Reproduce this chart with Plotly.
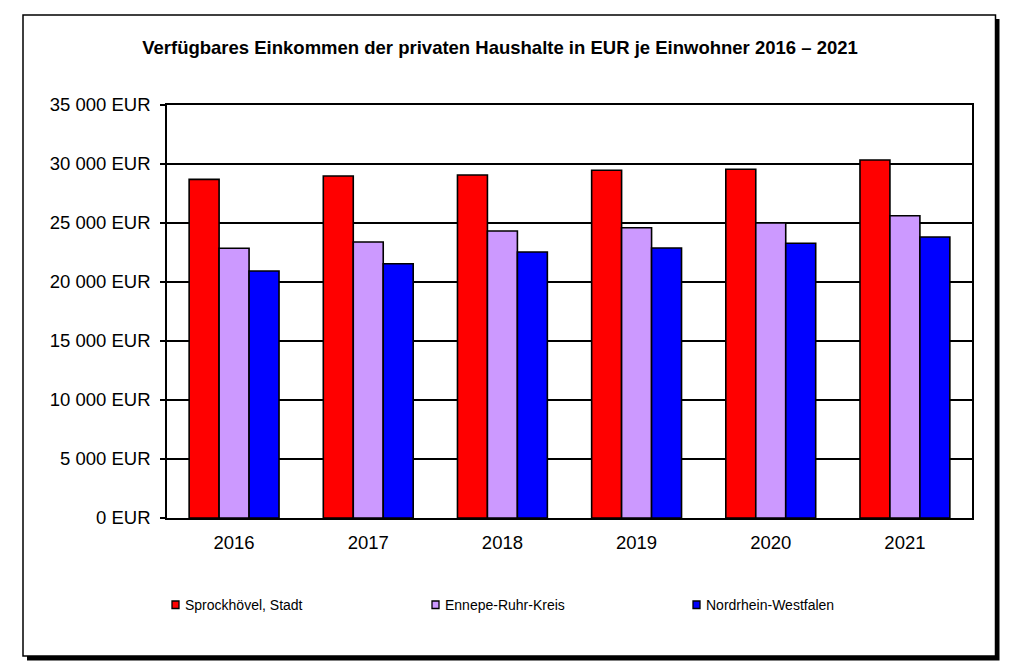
import plotly.graph_objects as go

years = ["2016", "2017", "2018", "2019", "2020", "2021"]
sprockhoevel = [28700, 28980, 29070, 29470, 29550, 30340]
ennepe = [22860, 23390, 24320, 24600, 25000, 25620]
nrw = [20930, 21550, 22540, 22880, 23280, 23810]
series_names = ["Sprockhövel, Stadt", "Ennepe-Ruhr-Kreis", "Nordrhein-Westfalen"]
colors = ["#FF0000", "#CC99FF", "#0000FF"]
ytick_vals = [0, 5000, 10000, 15000, 20000, 25000, 30000, 35000]
ytick_text = ["0 EUR", "5 000 EUR", "10 000 EUR", "15 000 EUR", "20 000 EUR",
              "25 000 EUR", "30 000 EUR", "35 000 EUR"]
title = "Verfügbares Einkommen der privaten Haushalte in EUR je Einwohner 2016 – 2021"

# the page body adds an 8px offset; work in screen coordinates and shift
OFF = 8
SW, SH = 1017, 670
W, H = SW - OFF, SH - OFF
SL, SR, ST, SB = 167, 972, 105, 518  # plot area in screen px
L, R, T, B = SL - OFF, SR - OFF, ST - OFF, SB - OFF


def px(sx):
    return (sx - SL) / (SR - SL)


def py(sy):
    return (SB - sy) / (SB - ST)


fig = go.Figure()
for name, vals, c in zip(series_names, [sprockhoevel, ennepe, nrw], colors):
    fig.add_trace(go.Bar(x=years, y=vals, name=name, showlegend=False,
                         marker=dict(color=c, line=dict(color="black", width=1.6))))

shapes = [
    # shadow
    dict(type="rect", xref="paper", yref="paper", x0=px(27), x1=px(999.5), y0=py(19), y1=py(660.5),
         fillcolor="black", line=dict(width=0), layer="below"),
    # frame
    dict(type="rect", xref="paper", yref="paper", x0=px(23), x1=px(995.5), y0=py(15), y1=py(656),
         fillcolor="white", line=dict(color="black", width=1.5), layer="below"),
]

# manual legend
legend_marker_x = [172, 432, 693]
annotations = []
for name, c, mx in zip(series_names, colors, legend_marker_x):
    shapes.append(dict(type="rect", xref="paper", yref="paper",
                       x0=px(mx), x1=px(mx + 7), y0=py(601), y1=py(608.5),
                       fillcolor=c, line=dict(color="black", width=1.3)))
    annotations.append(dict(xref="paper", yref="paper", x=px(mx + 10.5), y=py(605),
                            xanchor="left", yanchor="middle", showarrow=False,
                            text=name, font=dict(size=14, family="Liberation Sans, Arial",
                                                 color="black")))

fig.update_layout(
    width=W, height=H,
    margin=dict(l=L, r=W - R, t=T, b=H - B, autoexpand=False),
    paper_bgcolor="white",
    plot_bgcolor="#FFFFCC",
    font=dict(family="Liberation Sans, Arial", color="black", size=18.5),
    title=dict(text="<b>" + title + "</b>", x=(500 - OFF) / W, xanchor="center",
               y=1 - (48 - OFF) / H, yanchor="middle",
               font=dict(size=18.5, family="Liberation Sans, Arial", color="black")),
    barmode="group", bargap=0.33, bargroupgap=0,
    showlegend=False,
    shapes=shapes,
    annotations=annotations,
    xaxis=dict(showline=True, linecolor="black", linewidth=1.5, mirror=True,
               ticks="", tickfont=dict(size=18.5), showgrid=False,
               ticklabelstandoff=7),
    yaxis=dict(range=[0, 35000], tickvals=ytick_vals, ticktext=ytick_text,
               showline=True, linecolor="black", linewidth=1.5, mirror=True,
               ticks="outside", ticklen=5, tickcolor="black", tickwidth=1.5,
               showgrid=True, gridcolor="black", gridwidth=1.5,
               tickfont=dict(size=18.5), zeroline=False, ticklabelstandoff=6),
)

fig.write_html("out.html")
